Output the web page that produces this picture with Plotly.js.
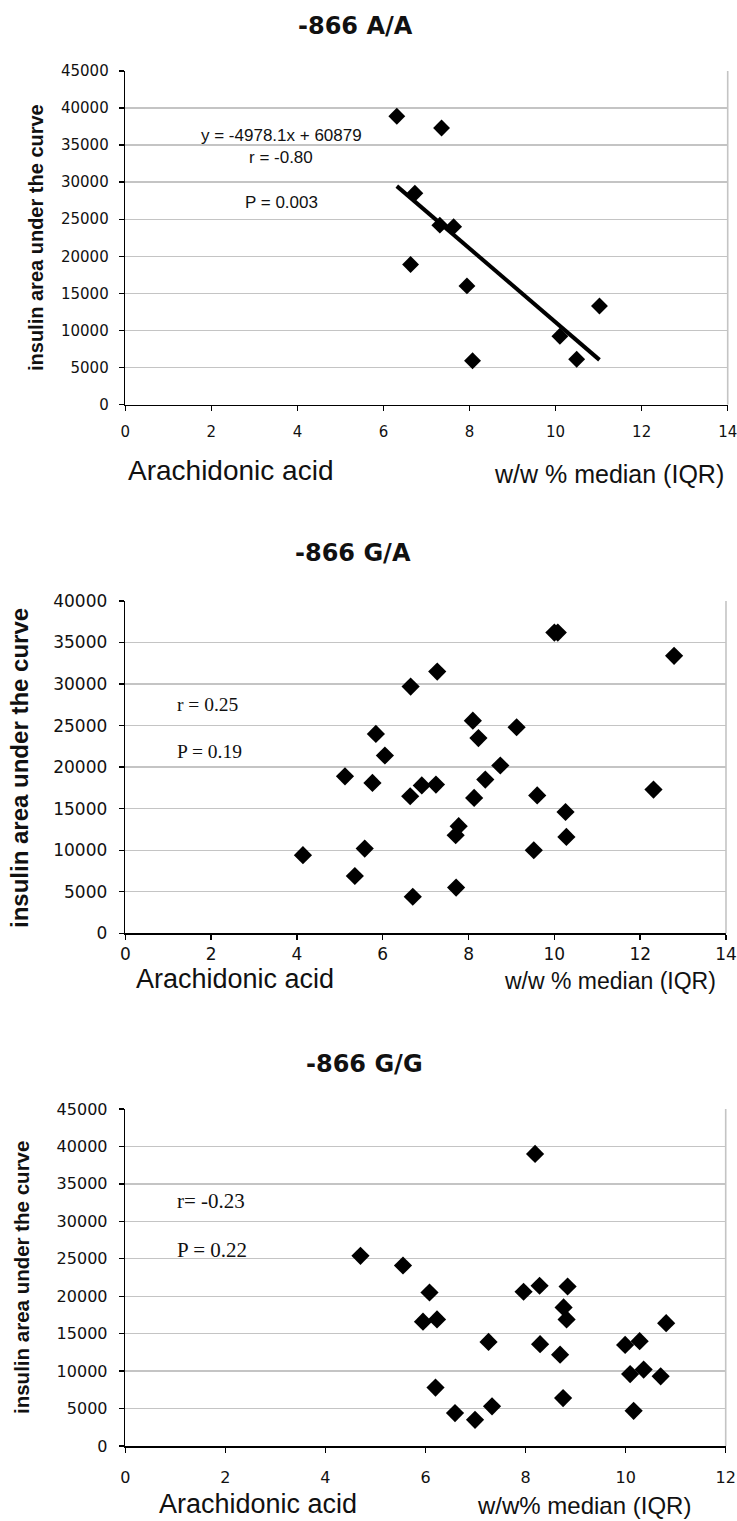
<!DOCTYPE html>
<html><head><meta charset="utf-8">
<script src="https://cdn.plot.ly/plotly-3.0.1.min.js"></script>
<style>html,body{margin:0;padding:0;background:#fff;}#chart{width:737px;height:1521px;}</style>
</head><body><div id="chart"></div>
<script>
// ---- Data ----
const titleAA = "-866 A/A", titleGA = "-866 G/A", titleGG = "-866 G/G";
const aaX = [6.31, 7.35, 6.73, 7.31, 7.63, 6.63, 7.94, 8.07, 10.10, 10.49, 11.02];
const aaY = [38900, 37300, 28500, 24200, 24000, 18900, 16000, 5900, 9200, 6100, 13300];
const aaSlope = -4978.1, aaIntercept = 60879;

const gaX = [10.00, 10.08, 12.79, 7.27, 6.65, 8.10, 9.12, 8.23, 5.84, 6.05, 5.12, 5.76, 6.64, 6.91, 7.24,
             8.39, 8.74, 8.13, 9.60, 12.31, 10.26, 7.77, 7.70, 10.28, 5.58, 9.52, 4.14, 5.35, 7.71, 6.70];
const gaY = [36200, 36200, 33400, 31500, 29700, 25600, 24800, 23500, 24000, 21400, 18900, 18100, 16500, 17800, 17900,
             18500, 20200, 16300, 16600, 17300, 14600, 12900, 11800, 11600, 10200, 10000, 9400, 6900, 5500, 4400];

const ggX = [8.19, 4.70, 5.55, 6.08, 5.95, 6.23, 7.26, 6.20, 6.59, 6.99, 7.33, 7.96, 8.28, 8.84, 8.76, 8.82,
             8.29, 8.69, 8.75, 9.99, 10.28, 10.09, 10.36, 10.70, 10.81, 10.16];
const ggY = [39000, 25400, 24100, 20500, 16600, 16900, 13900, 7800, 4400, 3500, 5300, 20600, 21400, 21300, 18500, 16900,
             13600, 12200, 6400, 13500, 14000, 9600, 10200, 9300, 16400, 4700];

const xTicks14 = [0, 2, 4, 6, 8, 10, 12, 14];
const xTicks12 = [0, 2, 4, 6, 8, 10, 12];
const yTicks45 = [0, 5000, 10000, 15000, 20000, 25000, 30000, 35000, 40000, 45000];
const yTicks40 = [0, 5000, 10000, 15000, 20000, 25000, 30000, 35000, 40000];

const yTitle = "insulin area under the curve";
const xLabelLeft = "Arachidonic acid";
const xLabelRight1 = "w/w % median (IQR)";
const xLabelRight3 = "w/w% median (IQR)";
const statsAA = ["y = -4978.1x + 60879", "r = -0.80", "P = 0.003"];
const statsGA = ["r = 0.25", "P = 0.19"];
const statsGG = ["r= -0.23", "P = 0.22"];

// ---- Build ----
const W = 737, H = 1521;
const xmin = Math.min(...aaX), xmax = Math.max(...aaX);
const fitX = [xmin, xmax];
const fitY = fitX.map(v => aaSlope * v + aaIntercept);

const traces = [
  {x: aaX, y: aaY, type: 'scatter', mode: 'markers', xaxis: 'x', yaxis: 'y',
   marker: {symbol: 'diamond', size: 13, color: '#000'}},
  {x: fitX, y: fitY, type: 'scatter', mode: 'lines', xaxis: 'x', yaxis: 'y',
   line: {color: '#000', width: 4}},
  {x: gaX, y: gaY, type: 'scatter', mode: 'markers', xaxis: 'x2', yaxis: 'y2',
   marker: {symbol: 'diamond', size: 14, color: '#000'}},
  {x: ggX, y: ggY, type: 'scatter', mode: 'markers', xaxis: 'x3', yaxis: 'y3',
   marker: {symbol: 'diamond', size: 14, color: '#000'}}
];

function xa(domain, range, ticks, fs, anchor, standoff) {
  return {domain: domain, range: range, tickvals: ticks, ticktext: ticks.map(String), anchor: anchor,
    showgrid: false, zeroline: false, showline: true, linecolor: '#000', linewidth: 1.6,
    ticks: 'outside', ticklen: 5, tickwidth: 1.4, tickcolor: '#000',
    ticklabelstandoff: standoff, ticklabeloverflow: 'allow',
    tickfont: {family: 'DejaVu Sans', size: fs, color: '#111'}, fixedrange: true};
}
function ya(domain, range, ticks, fs, anchor, standoff) {
  return {domain: domain, range: range, tickvals: ticks, ticktext: ticks.map(String), anchor: anchor,
    showgrid: true, gridcolor: '#c4c4c4', gridwidth: 1.4, zeroline: false,
    showline: true, linecolor: '#000', linewidth: 1.6,
    ticks: 'outside', ticklen: 5, tickwidth: 1.4, tickcolor: '#000',
    ticklabelstandoff: standoff, ticklabeloverflow: 'allow',
    tickfont: {family: 'DejaVu Sans', size: fs, color: '#111'}, fixedrange: true};
}
const px = v => v / W, py = v => 1 - v / H;

function ann(text, x, y, xanchor, font, extra) {
  return Object.assign({text: text, x: px(x), y: py(y), xref: 'paper', yref: 'paper',
    xanchor: xanchor, yanchor: 'middle', showarrow: false, font: font}, extra || {});
}
const sans = 'Liberation Sans, Arial, sans-serif';
const serif = 'Liberation Serif, Times New Roman, serif';
const titleFont = {family: 'DejaVu Sans', size: 24, color: '#111'};

const annotations = [
  ann('<b>' + titleAA + '</b>', 355, 26, 'center', titleFont),
  ann('<b>' + titleGA + '</b>', 353, 553, 'center', titleFont),
  ann('<b>' + titleGG + '</b>', 364, 1064, 'center', titleFont),
  ann('<b>' + yTitle + '</b>', 36, 238, 'center', {family: sans, size: 20, color: '#111'}, {textangle: -90}),
  ann('<b>' + yTitle + '</b>', 19, 768, 'center', {family: sans, size: 24, color: '#111'}, {textangle: -90}),
  ann('<b>' + yTitle + '</b>', 21, 1278, 'center', {family: sans, size: 20.5, color: '#111'}, {textangle: -90}),
  ann(statsAA[0], 281.5, 136, 'center', {family: sans, size: 17, color: '#111'}),
  ann(statsAA[1], 280.5, 158, 'center', {family: sans, size: 17, color: '#111'}),
  ann(statsAA[2], 281, 203, 'center', {family: sans, size: 17, color: '#111'}),
  ann(statsGA[0], 175, 704, 'left', {family: serif, size: 19.5, color: '#111'}),
  ann(statsGA[1], 175, 752, 'left', {family: serif, size: 19.5, color: '#111'}),
  ann(statsGG[0], 175, 1201, 'left', {family: serif, size: 21, color: '#111'}),
  ann(statsGG[1], 175, 1250, 'left', {family: serif, size: 21, color: '#111'}),
  ann(xLabelLeft, 126, 470, 'left', {family: sans, size: 28, color: '#111'}),
  ann(xLabelRight1, 726, 474, 'right', {family: sans, size: 25, color: '#111'}),
  ann(xLabelLeft, 134, 979, 'left', {family: sans, size: 27, color: '#111'}),
  ann(xLabelRight1, 718, 981, 'right', {family: sans, size: 23, color: '#111'}),
  ann(xLabelLeft, 157, 1504, 'left', {family: sans, size: 27, color: '#111'}),
  ann(xLabelRight3, 693, 1505, 'right', {family: sans, size: 24, color: '#111'})
];

function border(xr, yr) {
  return {type: 'line', xref: xr + ' domain', yref: yr + ' domain', x0: 1, x1: 1, y0: 0, y1: 1,
          line: {color: '#c4c4c4', width: 1.6}};
}

const layout = {
  width: W, height: H, margin: {l: 0, r: 0, t: 0, b: 0},
  paper_bgcolor: '#fff', plot_bgcolor: '#fff', showlegend: false,
  xaxis: xa([125.3 / W, 727.7 / W], [0, 14], xTicks14, 15, 'y', 8),
  yaxis: ya([1 - 404.5 / H, 1 - 71 / H], [0, 45000], yTicks45, 15, 'x', 7),
  xaxis2: xa([125.3 / W, 726 / W], [0, 14], xTicks14, 17, 'y2', 0),
  yaxis2: ya([1 - 933.3 / H, 1 - 601 / H], [0, 40000], yTicks40, 17, 'x2', 8),
  xaxis3: xa([125.3 / W, 725.7 / W], [0, 12], xTicks12, 16, 'y3', 11),
  yaxis3: ya([1 - 1446 / H, 1 - 1109 / H], [0, 45000], yTicks45, 16, 'x3', 8),
  annotations: annotations,
  shapes: [border('x', 'y'), border('x2', 'y2'), border('x3', 'y3')]
};

Plotly.newPlot('chart', traces, layout, {displayModeBar: false, staticPlot: true});
</script>
</body></html>
